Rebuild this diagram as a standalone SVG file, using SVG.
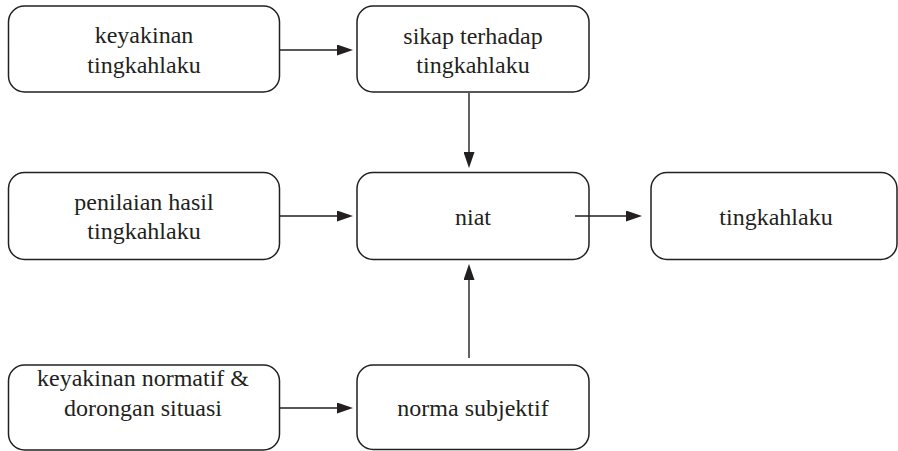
<svg xmlns="http://www.w3.org/2000/svg" width="898" height="451" viewBox="0 0 898 451">
<style>
.box{fill:#ffffff;stroke:#231f20;stroke-width:1.5}
text{font-family:'Liberation Serif','Times New Roman',Times,'DejaVu Serif','Noto Serif',Georgia,serif;font-size:24px;fill:#231f20;text-anchor:middle}
.conn{stroke:#231f20;stroke-width:1.4;fill:none;marker-end:url(#ah)}
</style>
<defs>
<marker id="ah" markerUnits="userSpaceOnUse" markerWidth="16" markerHeight="11" refX="6" refY="5.5" orient="auto">
<path d="M0,0 L16,5.5 L0,11 z" fill="#231f20"/>
</marker>
</defs>
<rect width="898" height="451" fill="#ffffff"/>
<g id="n-keyakinan">
<rect class="box" x="8.5" y="6" width="271" height="86" rx="16"/>
<text x="144" y="43" font-family="'Liberation Serif', serif">keyakinan</text>
<text x="144" y="73" font-family="'Liberation Serif', serif">tingkahlaku</text>
</g>
<g id="n-sikap">
<rect class="box" x="357" y="6" width="232" height="86" rx="16"/>
<text x="473" y="44" font-family="'Liberation Serif', serif">sikap terhadap</text>
<text x="473" y="73" font-family="'Liberation Serif', serif">tingkahlaku</text>
</g>
<g id="n-penilaian">
<rect class="box" x="8.5" y="172.5" width="271" height="87" rx="16"/>
<text x="144" y="210" font-family="'Liberation Serif', serif">penilaian hasil</text>
<text x="144" y="239" font-family="'Liberation Serif', serif">tingkahlaku</text>
</g>
<g id="n-niat">
<rect class="box" x="357" y="172.5" width="232" height="87" rx="16"/>
<text x="473" y="225" font-family="'Liberation Serif', serif">niat</text>
</g>
<g id="n-tingkahlaku">
<rect class="box" x="651" y="172.5" width="246" height="87" rx="16"/>
<text x="776" y="225" font-family="'Liberation Serif', serif">tingkahlaku</text>
</g>
<g id="n-normatif">
<rect class="box" x="8.5" y="365" width="271" height="85" rx="16"/>
<text x="143" y="386" font-family="'Liberation Serif', serif">keyakinan normatif &amp;</text>
<text x="143" y="416" font-family="'Liberation Serif', serif">dorongan situasi</text>
</g>
<g id="n-norma">
<rect class="box" x="357" y="365" width="232" height="84.5" rx="16"/>
<text x="473" y="416" font-family="'Liberation Serif', serif">norma subjektif</text>
</g>
<g id="connectors">
<line class="conn" x1="280" y1="50" x2="343" y2="50"/>
<line class="conn" x1="280" y1="216" x2="343" y2="216"/>
<line class="conn" x1="575" y1="216" x2="632" y2="216"/>
<line class="conn" x1="280" y1="408" x2="343" y2="408"/>
<line class="conn" x1="469" y1="93" x2="469" y2="158"/>
<line class="conn" x1="469" y1="358" x2="469" y2="274"/>
</g>
</svg>
